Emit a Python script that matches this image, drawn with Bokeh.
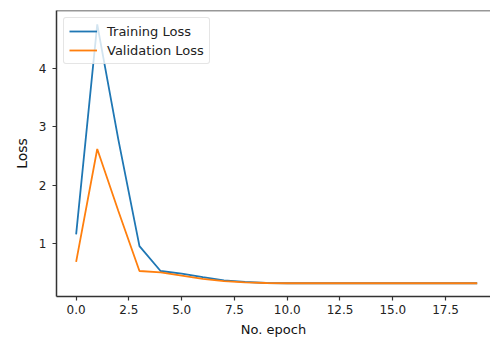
from bokeh.plotting import figure
from bokeh.models import FixedTicker, NumeralTickFormatter, Span, Legend, LegendItem, Range1d
from bokeh.embed import file_html
from bokeh.resources import INLINE

epochs = list(range(20))
train_loss = [1.16, 4.75, 2.78, 0.96, 0.535, 0.49, 0.43, 0.376, 0.35, 0.33,
              0.325, 0.325, 0.325, 0.325, 0.325, 0.325, 0.325, 0.325, 0.325, 0.325]
val_loss = [0.69, 2.62, 1.56, 0.535, 0.51, 0.455, 0.40, 0.36, 0.34, 0.33,
            0.325, 0.325, 0.325, 0.325, 0.325, 0.325, 0.325, 0.325, 0.325, 0.325]
x_ticks = [0.0, 2.5, 5.0, 7.5, 10.0, 12.5, 15.0, 17.5]
y_ticks = [1, 2, 3, 4]

FONT = "DejaVu Sans"
AX = "#333333"

p = figure(width=490, height=339, output_backend="svg", toolbar_location=None,
           x_range=Range1d(-0.93, 19.63), y_range=Range1d(0.099, 4.986),
           min_border_left=56, min_border_top=10, min_border_bottom=43, min_border_right=0)
p.outline_line_color = None
p.grid.visible = False
p.background_fill_color = "white"
p.border_fill_color = "white"

r1 = p.line(epochs, train_loss, line_color="#1f77b4", line_width=1.8)
r2 = p.line(epochs, val_loss, line_color="#ff7f0e", line_width=1.8)

p.add_layout(Span(location=4.986, dimension="width", line_color=AX, line_width=1.5))

for ax in (p.xaxis[0], p.yaxis[0]):
    ax.axis_line_color = AX
    ax.axis_line_width = 1.5
    ax.major_tick_line_color = AX
    ax.major_tick_line_width = 1.2
    ax.major_tick_out = 4
    ax.major_tick_in = 0
    ax.minor_tick_line_color = None
    ax.major_label_text_font = FONT
    ax.major_label_text_font_size = "12px"
    ax.major_label_text_color = "#222222"
    ax.axis_label_text_font = FONT
    ax.axis_label_text_font_style = "normal"
    ax.axis_label_text_color = "#111111"

p.xaxis.ticker = FixedTicker(ticks=x_ticks)
p.xaxis.formatter = NumeralTickFormatter(format="0.0")
p.xaxis.axis_label = "No. epoch"
p.xaxis.axis_label_text_font_size = "13px"
p.xaxis.major_label_standoff = 4
p.xaxis.axis_label_standoff = 5

p.yaxis.ticker = FixedTicker(ticks=y_ticks)
p.yaxis.axis_label = "Loss"
p.yaxis.axis_label_text_font_size = "14px"
p.yaxis.major_label_standoff = 6
p.yaxis.axis_label_standoff = 6

legend = Legend(items=[LegendItem(label="Training Loss", renderers=[r1]),
                       LegendItem(label="Validation Loss", renderers=[r2])],
                location="top_left")
legend.margin = 7
legend.padding = 5
legend.spacing = 3
legend.glyph_width = 28
legend.glyph_height = 16
legend.label_height = 16
legend.label_standoff = 10
legend.label_text_font = FONT
legend.label_text_font_size = "13px"
legend.label_text_color = "#222222"
legend.border_line_color = "#cccccc"
legend.border_line_width = 1
legend.border_radius = 3
legend.background_fill_alpha = 0.8
p.add_layout(legend)

open("out.html", "w").write(file_html(p, INLINE))
